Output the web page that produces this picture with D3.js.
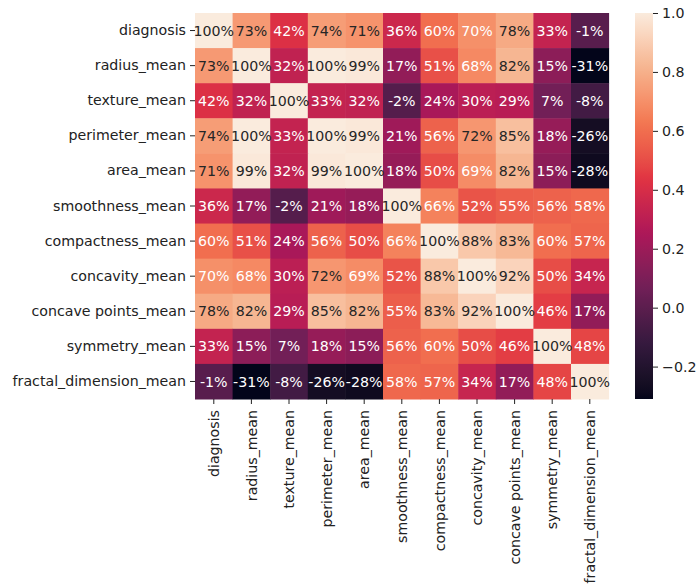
<!DOCTYPE html>
<html>
<head>
<meta charset="utf-8">
<script src="https://cdn.jsdelivr.net/npm/d3@7"></script>
<style>
  body { margin: 0; background: #fff; }
  text { font-family: "DejaVu Sans", sans-serif; }
</style>
</head>
<body>
<svg id="chart" width="696" height="588"></svg>
<script>
// Feature names (rows and columns of the correlation matrix)
const features = [
  "diagnosis", "radius_mean", "texture_mean", "perimeter_mean", "area_mean",
  "smoothness_mean", "compactness_mean", "concavity_mean", "concave points_mean",
  "symmetry_mean", "fractal_dimension_mean"
];

// Pairwise correlations, one row per feature
const rowDiagnosis   = [1.00, 0.73, 0.42, 0.74, 0.71, 0.36, 0.60, 0.70, 0.78, 0.33, -0.01];
const rowRadius      = [0.73, 1.00, 0.32, 1.00, 0.99, 0.17, 0.51, 0.68, 0.82, 0.15, -0.31];
const rowTexture     = [0.42, 0.32, 1.00, 0.33, 0.32, -0.02, 0.24, 0.30, 0.29, 0.07, -0.08];
const rowPerimeter   = [0.74, 1.00, 0.33, 1.00, 0.99, 0.21, 0.56, 0.72, 0.85, 0.18, -0.26];
const rowArea        = [0.71, 0.99, 0.32, 0.99, 1.00, 0.18, 0.50, 0.69, 0.82, 0.15, -0.28];
const rowSmoothness  = [0.36, 0.17, -0.02, 0.21, 0.18, 1.00, 0.66, 0.52, 0.55, 0.56, 0.58];
const rowCompactness = [0.60, 0.51, 0.24, 0.56, 0.50, 0.66, 1.00, 0.88, 0.83, 0.60, 0.57];
const rowConcavity   = [0.70, 0.68, 0.30, 0.72, 0.69, 0.52, 0.88, 1.00, 0.92, 0.50, 0.34];
const rowConcavePts  = [0.78, 0.82, 0.29, 0.85, 0.82, 0.55, 0.83, 0.92, 1.00, 0.46, 0.17];
const rowSymmetry    = [0.33, 0.15, 0.07, 0.18, 0.15, 0.56, 0.60, 0.50, 0.46, 1.00, 0.48];
const rowFractal     = [-0.01, -0.31, -0.08, -0.26, -0.28, 0.58, 0.57, 0.34, 0.17, 0.48, 1.00];

const corr = [rowDiagnosis, rowRadius, rowTexture, rowPerimeter, rowArea, rowSmoothness,
              rowCompactness, rowConcavity, rowConcavePts, rowSymmetry, rowFractal];

// Colorbar tick values
const cbarTicks = [-0.2, 0.0, 0.2, 0.4, 0.6, 0.8, 1.0];

// "rocket" colormap anchor colours, evenly spaced from 0 to 1
const rocketStops = ["#03051a", "#35193e", "#701f57", "#ad1759",
                     "#e13342", "#f37651", "#f6b48f", "#faebdd"];

const svg = d3.select("#chart");
const fontSize = 14.2;

const plot = { left: 195, right: 608.6, top: 13, bottom: 399 };
const cbar = { left: 635, right: 653 };

const cells = [];
corr.forEach((row, i) => row.forEach((v, j) => cells.push({ r: features[i], c: features[j], v })));

const vmin = d3.min(cells, d => d.v);
const vmax = d3.max(cells, d => d.v);

const rocket = d3.scaleLinear()
  .domain(rocketStops.map((_, i) => i / (rocketStops.length - 1)))
  .range(rocketStops)
  .interpolate(d3.interpolateLab)
  .clamp(true);
const norm = d3.scaleLinear().domain([vmin, vmax]).range([0, 1]).clamp(true);
const color = v => rocket(norm(v));

const x = d3.scaleBand().domain(features).range([plot.left, plot.right]);
const y = d3.scaleBand().domain(features).range([plot.top, plot.bottom]);

// Relative luminance, used to pick the annotation colour
function luminance(c) {
  const rgb = d3.rgb(c);
  const lin = [rgb.r, rgb.g, rgb.b].map(u => {
    u /= 255;
    return u <= 0.03928 ? u / 12.92 : Math.pow((u + 0.055) / 1.055, 2.4);
  });
  return 0.2126 * lin[0] + 0.7152 * lin[1] + 0.0722 * lin[2];
}

// Heatmap cells
svg.append("g")
  .selectAll("rect")
  .data(cells)
  .join("rect")
  .attr("x", d => x(d.c))
  .attr("y", d => y(d.r))
  .attr("width", x.bandwidth() + 0.5)
  .attr("height", y.bandwidth() + 0.5)
  .attr("fill", d => color(d.v));

// Cell annotations (plain hyphen for negative values)
const pct = d3.format(".0%");
svg.append("g")
  .selectAll("text")
  .data(cells)
  .join("text")
  .attr("x", d => x(d.c) + x.bandwidth() / 2)
  .attr("y", d => y(d.r) + y.bandwidth() / 2)
  .attr("dy", "0.36em")
  .attr("text-anchor", "middle")
  .attr("font-size", fontSize)
  .attr("fill", d => luminance(color(d.v)) > 0.408 ? "#262626" : "#ffffff")
  .text(d => pct(d.v).replace("\u2212", "-"));

// Axes
const yAxis = d3.axisLeft(y).tickSize(5).tickPadding(4);
const gy = svg.append("g").attr("transform", `translate(${plot.left},0)`).call(yAxis);
const xAxis = d3.axisBottom(x).tickSize(5).tickPadding(4);
const gx = svg.append("g").attr("transform", `translate(0,${plot.bottom})`).call(xAxis);

[gx, gy].forEach(g => {
  g.select(".domain").remove();
  g.selectAll(".tick line").attr("stroke", "#222").attr("stroke-width", 1);
  g.selectAll(".tick text")
    .attr("font-family", "DejaVu Sans, sans-serif")
    .attr("font-size", fontSize)
    .attr("fill", "#222");
});

gx.selectAll(".tick text")
  .attr("transform", "rotate(-90)")
  .attr("text-anchor", "end")
  .attr("x", -11)
  .attr("y", 0)
  .attr("dy", "0.36em");

// Colorbar
const cy = d3.scaleLinear().domain([vmin, vmax]).range([plot.bottom, plot.top]);
const defs = svg.append("defs");
const grad = defs.append("linearGradient")
  .attr("id", "cbarGrad")
  .attr("x1", 0).attr("y1", 1).attr("x2", 0).attr("y2", 0);
d3.range(0, 1.0001, 0.02).forEach(t => {
  grad.append("stop").attr("offset", t).attr("stop-color", rocket(t));
});
svg.append("rect")
  .attr("x", cbar.left)
  .attr("y", plot.top)
  .attr("width", cbar.right - cbar.left)
  .attr("height", plot.bottom - plot.top)
  .attr("fill", "url(#cbarGrad)");

const cAxis = d3.axisRight(cy)
  .tickValues(cbarTicks)
  .tickSize(5)
  .tickPadding(4)
  .tickFormat(v => d3.format(".1f")(v).replace("-", "\u2212"));
const gc = svg.append("g").attr("transform", `translate(${cbar.right},0)`).call(cAxis);
gc.select(".domain").remove();
gc.selectAll(".tick line").attr("stroke", "#222");
gc.selectAll(".tick text")
  .attr("font-family", "DejaVu Sans, sans-serif")
  .attr("font-size", fontSize)
  .attr("fill", "#222");
</script>
</body>
</html>
